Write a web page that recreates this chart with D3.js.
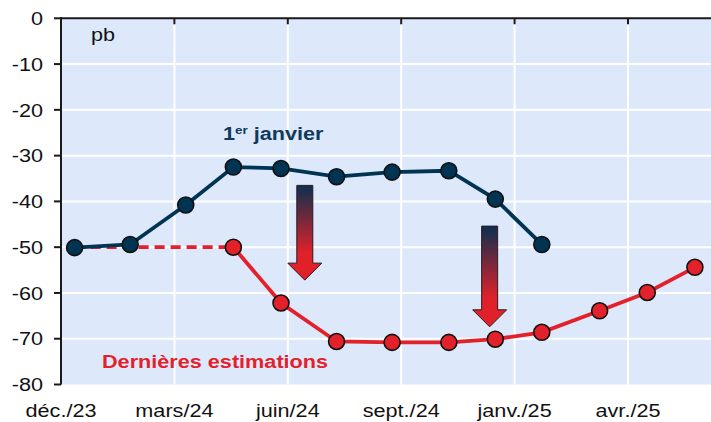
<!DOCTYPE html>
<html>
<head>
<meta charset="utf-8">
<script src="https://cdn.jsdelivr.net/npm/d3@7"></script>
<style>
	html, body { margin: 0; padding: 0; background: #ffffff; }
	svg { display: block; }
	text { font-family: Arial, "Liberation Sans", sans-serif; }
</style>
</head>
<body>
<svg id="chart" width="711" height="422"></svg>
<script>
// x positions in "quarter" units since déc./23 (one unit = one labelled tick)
const tickLabels = ["déc./23", "mars/24", "juin/24", "sept./24", "janv./25", "avr./25"]
const yTicks = [0, -10, -20, -30, -40, -50, -60, -70, -80]
const meetingPos = [0.12, 0.61, 1.10, 1.52, 1.94, 2.43, 2.92, 3.42, 3.83, 4.24, 4.75, 5.17, 5.59]
const janValues = [-50.1, -49.4, -40.8, -32.5, -32.8, -34.6, -33.6, -33.3, -39.5, -49.4]
const latestValues = [-50, null, null, -50, -62.2, -70.6, -70.8, -70.8, -70.1, -68.6, -63.9, -59.9, -54.4]
const arrows = [
	{ x: 2.15, from: -36.5, to: -57.2 },
	{ x: 3.78, from: -45.4, to: -67.4 }
]

const navy = "#003452"
const red = "#e3212b"
const stretch = 1.17 // the original's text is a bit wider than Arial

const svg = d3.select("#chart")
const plotLeft = 61, plotRight = 711, plotTop = 18.3, plotBottom = 384.5

const x = d3.scaleLinear().domain([0, 5.732]).range([plotLeft, plotRight])
const y = d3.scaleLinear().domain([-80, 0]).range([plotBottom, plotTop])

// helper for horizontally stretched text
const label = (g, px, py, str) =>
	g.append("text").attr("transform", `translate(${px},${py}) scale(${stretch},1)`).text(str)

svg.append("rect")
	.attr("x", plotLeft).attr("y", plotTop)
	.attr("width", plotRight - plotLeft).attr("height", plotBottom - plotTop)
	.attr("fill", "#dde9fb")

const grid = svg.append("g").attr("stroke", "#ffffff").attr("stroke-width", 2)
yTicks.slice(1, -1).forEach(v => {
	grid.append("line").attr("x1", plotLeft).attr("x2", plotRight).attr("y1", y(v)).attr("y2", y(v))
})
tickLabels.slice(1).forEach((t, i) => {
	grid.append("line").attr("x1", x(i + 1)).attr("x2", x(i + 1)).attr("y1", plotTop).attr("y2", plotBottom)
})

// axes
const axisG = svg.append("g").attr("stroke", "#1a1a1a").attr("stroke-width", 2)
axisG.append("line").attr("x1", plotLeft).attr("x2", plotRight).attr("y1", plotTop).attr("y2", plotTop)
axisG.append("line").attr("x1", plotLeft).attr("x2", plotLeft).attr("y1", plotTop - 1).attr("y2", plotBottom)
yTicks.forEach(v => {
	axisG.append("line").attr("x1", plotLeft - 7).attr("x2", plotLeft).attr("y1", y(v)).attr("y2", y(v))
})
tickLabels.forEach((t, i) => {
	axisG.append("line").attr("x1", x(i)).attr("x2", x(i)).attr("y1", plotTop).attr("y2", plotTop + 6)
})

const tickText = svg.append("g").attr("font-size", 18.5).attr("fill", "#111111")
yTicks.forEach(v => {
	label(tickText, 43, y(v) + 6.7, v === 0 ? "0" : String(v)).attr("text-anchor", "end")
})
tickLabels.forEach((t, i) => {
	label(tickText, x(i), 417, t).attr("text-anchor", "middle")
})
label(tickText, 91, 41, "pb")

// series
const janData = janValues.map((v, i) => ({ x: meetingPos[i], v }))
const latestData = latestValues.map((v, i) => ({ x: meetingPos[i], v })).filter(d => d.v !== null)
const line = d3.line().x(d => x(d.x)).y(d => y(d.v))

svg.append("path")
	.attr("d", line(latestData.slice(0, 2)))
	.attr("fill", "none").attr("stroke", red).attr("stroke-width", 3.8)
	.attr("stroke-dasharray", "10,6")
svg.append("path")
	.attr("d", line(latestData.slice(1)))
	.attr("fill", "none").attr("stroke", red).attr("stroke-width", 3.8)
svg.append("path")
	.attr("d", line(janData))
	.attr("fill", "none").attr("stroke", navy).attr("stroke-width", 3.8)

svg.append("g").selectAll("circle")
	.data(latestData.slice(1))
	.join("circle")
	.attr("cx", d => x(d.x)).attr("cy", d => y(d.v)).attr("r", 8)
	.attr("fill", red).attr("stroke", "#111111").attr("stroke-width", 1.6)
svg.append("g").selectAll("circle")
	.data(janData)
	.join("circle")
	.attr("cx", d => x(d.x)).attr("cy", d => y(d.v)).attr("r", 8)
	.attr("fill", navy).attr("stroke", "#111111").attr("stroke-width", 1.6)

// arrows
const grad = svg.append("defs").append("linearGradient")
	.attr("id", "arrowGrad").attr("x1", 0).attr("y1", 0).attr("x2", 0).attr("y2", 1)
grad.append("stop").attr("offset", "0%").attr("stop-color", "#0c2f4e")
grad.append("stop").attr("offset", "72%").attr("stop-color", "#e1212a")
grad.append("stop").attr("offset", "100%").attr("stop-color", "#e1212a")

arrows.forEach(a => {
	const cx = x(a.x), y0 = y(a.from), y1 = y(a.to)
	const shaft = 8, head = 17, headLen = 17
	const pts = [
		[cx - shaft, y0], [cx + shaft, y0], [cx + shaft, y1 - headLen], [cx + head, y1 - headLen],
		[cx, y1], [cx - head, y1 - headLen], [cx - shaft, y1 - headLen]
	]
	svg.append("path")
		.attr("d", "M" + pts.map(p => p.join(",")).join("L") + "Z")
		.attr("fill", "url(#arrowGrad)")
		.attr("stroke", "#2a1a22").attr("stroke-width", 1)
})

// annotations
const ann1 = label(svg, 223, 140, "").attr("font-size", 18.5).attr("font-weight", "bold").attr("fill", "#0e3a5b")
ann1.append("tspan").text("1")
ann1.append("tspan").attr("font-size", 11.5).attr("dy", -6).text("er")
ann1.append("tspan").attr("dy", 6).text(" janvier")

label(svg, 102, 368, "Dernières estimations")
	.attr("font-size", 18.5).attr("font-weight", "bold").attr("fill", red)
</script>
</body>
</html>
